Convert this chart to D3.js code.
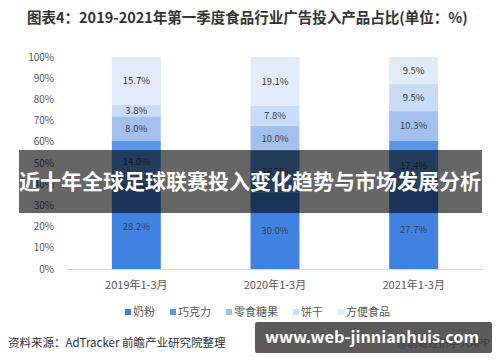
<!DOCTYPE html>
<html>
<head>
<meta charset="utf-8">
<script src="https://cdn.jsdelivr.net/npm/d3@7"></script>
<style>
  body { margin: 0; background: #fff; }
  svg { display: block; font-family: "Noto Sans CJK SC", "Noto Sans", sans-serif; }
</style>
</head>
<body>
<script>
// periods on the x axis
var periods = ["2019年1-3月", "2020年1-3月", "2021年1-3月"];
// product types, bottom to top
var products = ["奶粉", "巧克力", "零食糖果", "饼干", "方便食品"];
// share values (%) per product, one per period
var milkPowder = [28.2, 30.0, 27.7];
var chocolate = [14.0, 16.3, 17.4];
var snacks = [8.0, 10.0, 10.3];
var biscuits = [3.8, 7.8, 9.5];
var instantFood = [15.7, 19.1, 9.5];
var yTicks = [0, 0.1, 0.2, 0.3, 0.4, 0.5, 0.6, 0.7, 0.8, 0.9, 1];

var colors = ["#3f82e0", "#5b96e6", "#a3c0ee", "#c9dbf6", "#e1ebfa"];

var W = 500, H = 362;
var svg = d3.select("body").append("svg").attr("width", W).attr("height", H);

var series = [milkPowder, chocolate, snacks, biscuits, instantFood];
var rows = periods.map(function(p, i) {
    var r = {period: p};
    products.forEach(function(k, j) { r[k] = series[j][i]; });
    return r;
});

var stack = d3.stack().keys(products).offset(d3.stackOffsetExpand);
var stacked = stack(rows);

var x = d3.scaleBand().domain(periods).range([67, 483]).paddingInner(0.647).paddingOuter(0.3235);
var y = d3.scaleLinear().domain([0, 1]).range([269, 57]);

// title
svg.append("text")
    .attr("x", 27).attr("y", 23)
    .attr("font-size", 14.5).attr("font-weight", "bold").attr("fill", "#333")
    .text("图表4：2019-2021年第一季度食品行业广告投入产品占比(单位：%)");

// y axis labels
svg.append("g").selectAll("text")
    .data(yTicks).enter().append("text")
    .attr("x", 54).attr("y", function(d) { return y(d) + 3.5; })
    .attr("text-anchor", "end").attr("font-size", 10).attr("fill", "#595959")
    .text(function(d) { return Math.round(d * 100) + "%"; });

// baseline
svg.append("line")
    .attr("x1", 67).attr("x2", 483).attr("y1", y(0) + 0.5).attr("y2", y(0) + 0.5)
    .attr("stroke", "#d9d9d9");

// bars
var layer = svg.append("g").selectAll("g")
    .data(stacked).enter().append("g")
    .attr("fill", function(d, i) { return colors[i]; });

layer.selectAll("rect")
    .data(function(d) { return d; })
    .enter().append("rect")
    .attr("x", function(d) { return x(d.data.period); })
    .attr("width", x.bandwidth())
    .attr("y", function(d) { return y(d[1]); })
    .attr("height", function(d) { return y(d[0]) - y(d[1]); });

layer.selectAll("text")
    .data(function(d) { return d.map(function(v) { return {v: v, key: d.key}; }); })
    .enter().append("text")
    .attr("x", function(d) { return x(d.v.data.period) + x.bandwidth() / 2; })
    .attr("y", function(d) { return (y(d.v[0]) + y(d.v[1])) / 2 + 3.5; })
    .attr("text-anchor", "middle").attr("font-size", 9.5).attr("fill", "#3c3c3c")
    .text(function(d) { return d.v.data[d.key].toFixed(1) + "%"; });

// x labels
svg.append("g").selectAll("text")
    .data(periods).enter().append("text")
    .attr("x", function(d) { return x(d) + x.bandwidth() / 2; })
    .attr("y", 289)
    .attr("text-anchor", "middle").attr("font-size", 11).attr("fill", "#595959")
    .text(function(d) { return d; });

// legend
var lx = 125;
products.forEach(function(p, i) {
    svg.append("rect").attr("x", lx).attr("y", 309).attr("width", 6).attr("height", 6)
        .attr("fill", colors[i]);
    var t = svg.append("text").attr("x", lx + 8).attr("y", 316)
        .attr("font-size", 11).attr("fill", "#595959").text(p);
    lx += 8 + t.node().getComputedTextLength() + 15;
});

// source
svg.append("text")
    .attr("x", 8).attr("y", 347)
    .attr("font-size", 11.5).attr("fill", "#333")
    .text("资料来源：AdTracker 前瞻产业研究院整理");

// dark banner overlay
svg.append("rect")
    .attr("x", 19).attr("y", 150).attr("width", 463).attr("height", 63)
    .attr("fill", "rgba(0,0,0,0.6)");
svg.append("text")
    .attr("x", 250).attr("y", 189)
    .attr("text-anchor", "middle").attr("font-size", 21).attr("font-weight", "bold")
    .attr("fill", "#fff")
    .text("近十年全球足球联赛投入变化趋势与市场发展分析");

// bottom-right watermark box
svg.append("rect")
    .attr("x", 255).attr("y", 322).attr("width", 237).attr("height", 31).attr("rx", 2)
    .attr("fill", "#5a5a5a");
svg.append("text")
    .attr("x", 490).attr("y", 347)
    .attr("text-anchor", "end").attr("font-size", 10.5).attr("fill", "#3e3e3e")
    .text("@前瞻经济学人APP");
svg.append("text")
    .attr("x", 265).attr("y", 343)
    .attr("font-size", 16.3).attr("font-weight", "bold").attr("fill", "#fff")
    .text("www.web-jinnianhuis.com");
</script>
</body>
</html>
